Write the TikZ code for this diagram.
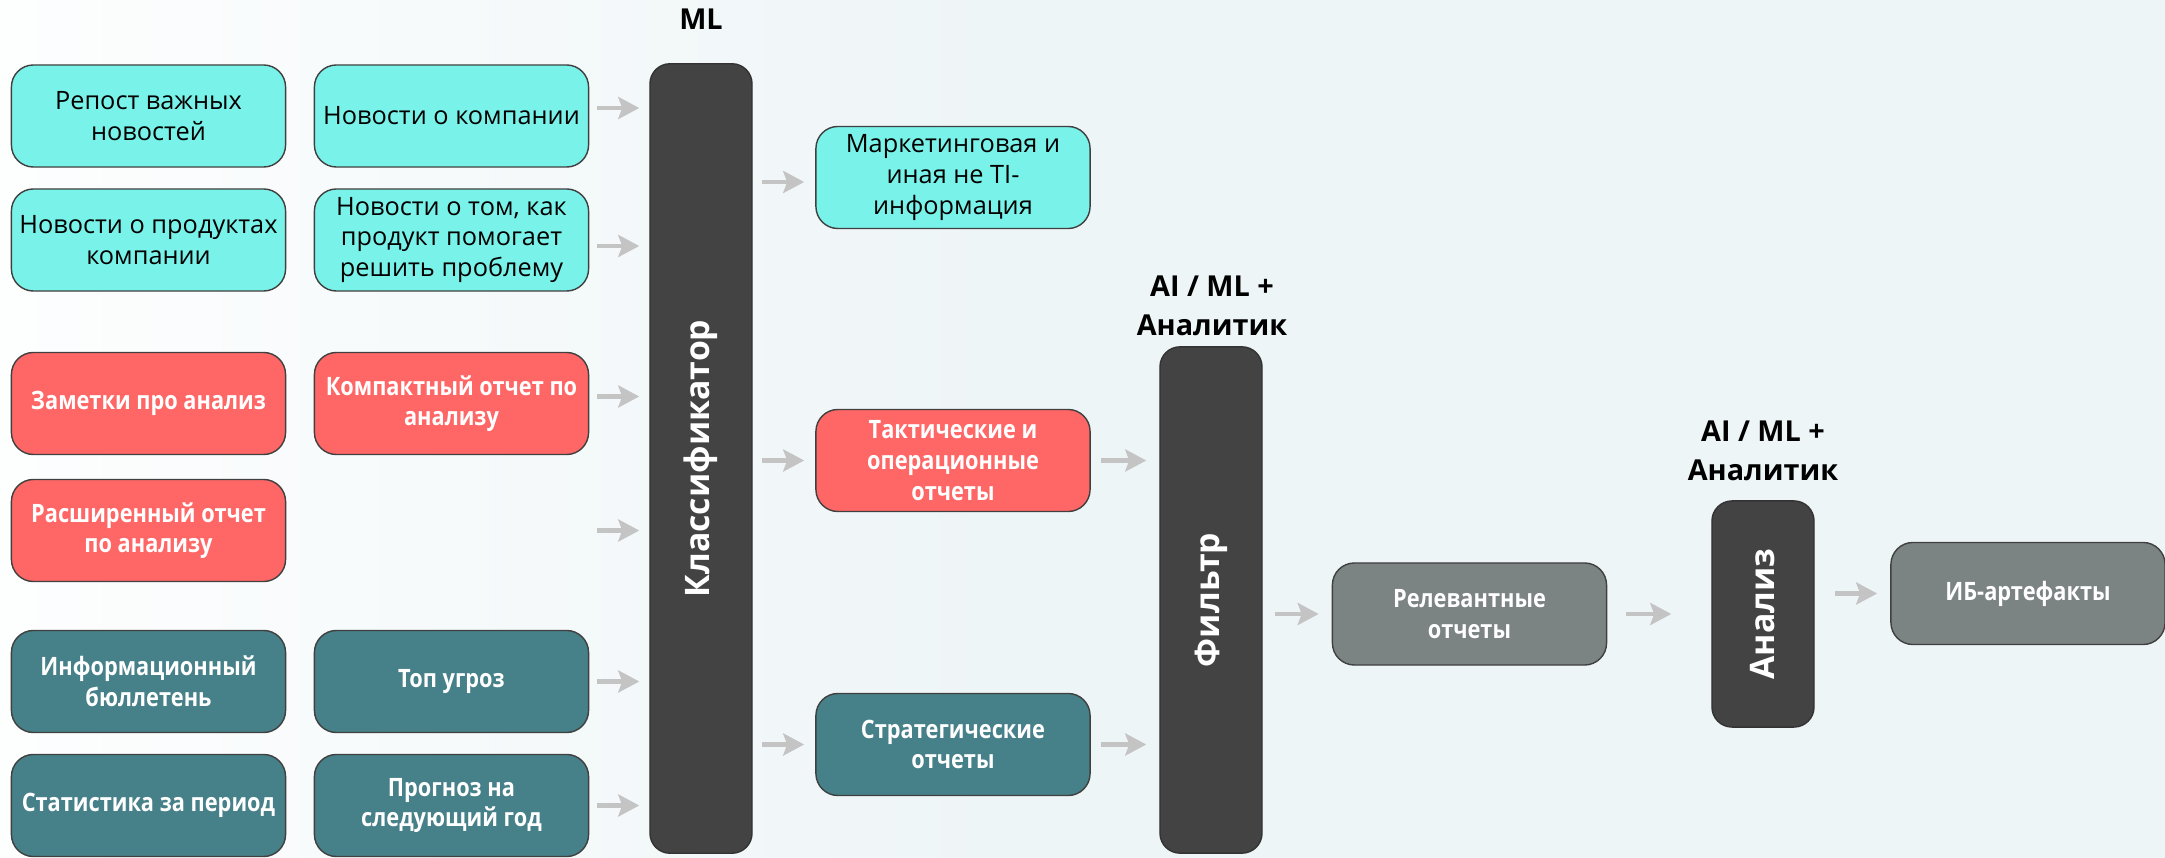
\documentclass[tikz,border=0pt]{standalone}
\usepackage{fontspec}
\setmainfont{Open Sans}[BoldFeatures={FakeStretch=0.86}]
\newfontfamily\barfont{Open Sans}
\usetikzlibrary{arrows.meta}
\definecolor{cyanbox}{RGB}{121,242,233}
\definecolor{redbox}{RGB}{255,102,102}
\definecolor{tealbox}{RGB}{70,128,137}
\definecolor{graybox}{RGB}{124,131,131}
\definecolor{barcol}{RGB}{67,67,67}
\definecolor{arrowgray}{RGB}{196,196,196}
\definecolor{bgtint}{RGB}{238,245,247}
\pgfdeclarehorizontalshading{bgshade}{100bp}{color(0bp)=(white); color(22bp)=(white); color(48bp)=(bgtint); color(100bp)=(bgtint)}
\begin{document}
\begin{tikzpicture}[x=0.01cm,y=-0.01cm,font=\fontsize{7.2}{8.7}\selectfont]
  \tikzstyle{box}=[draw=black!75,line width=0.4pt,rounded corners=0.22cm,minimum width=2.74cm,minimum height=1.02cm,align=center,inner sep=1pt]
  \tikzstyle{cyanb}=[box,fill=cyanbox,text=black]
  \tikzstyle{redb}=[box,fill=redbox,text=white,font=\fontsize{7.2}{8.7}\selectfont\bfseries]
  \tikzstyle{tealb}=[box,fill=tealbox,text=white,font=\fontsize{7.2}{8.7}\selectfont\bfseries]
  \tikzstyle{grayb}=[box,fill=graybox,text=white,font=\fontsize{7.2}{8.7}\selectfont\bfseries]
  \tikzstyle{bar}=[draw=black!80,fill=barcol,rounded corners=0.2cm,minimum width=1.02cm,inner sep=0pt,text=white,font=\barfont\fontsize{9.6}{12}\selectfont\bfseries]
  \tikzstyle{head}=[align=center,font=\barfont\fontsize{8.2}{11}\selectfont\bfseries]
  \tikzstyle{arr}=[draw=arrowgray,line width=1.3pt,-{Stealth[length=2.1mm,width=2.2mm,inset=0.4mm]}]
  \useasboundingbox (0,0) rectangle (2165,858);
  \shade[shading=bgshade] (0,0) rectangle (2165,858);

  % sources
  \node[cyanb] (repost) at (148.5,116) {Репост важных\\новостей};
  \node[cyanb] (newsco) at (451.5,116) {Новости о компании};
  \node[cyanb] (prod) at (148.5,240) {Новости о продуктах\\компании};
  \node[cyanb] (howto) at (451.5,240) {Новости о том, как\\продукт помогает\\решить проблему};
  \node[redb] (notes) at (148.5,403.5) {Заметки про анализ};
  \node[redb] (compact) at (451.5,403.5) {Компактный отчет по\\анализу};
  \node[redb] (ext) at (148.5,530.5) {Расширенный отчет\\по анализу};
  \node[tealb] (bull) at (148.5,681.5) {Информационный\\бюллетень};
  \node[tealb] (top) at (451.5,681.5) {Топ угроз};
  \node[tealb] (stat) at (148.5,805.5) {Статистика за период};
  \node[tealb] (fcst) at (451.5,805.5) {Прогноз на\\следующий год};

  % classifier
  \node[bar,minimum height=7.89cm] (cls) at (701,458.5) {\rotatebox{90}{Классификатор}};
  \node[head] (mlhead) at (701,19) {ML};

  % classes
  \node[cyanb] (mkt) at (953,177.5) {Маркетинговая и\\иная не TI-\\информация};
  \node[redb] (tact) at (953,460.5) {Тактические и\\операционные\\отчеты};
  \node[tealb] (strat) at (953,744.5) {Стратегические\\отчеты};

  % filter
  \node[bar,minimum height=5.06cm] (flt) at (1211,600) {\rotatebox{90}{Фильтр}};
  \node[head] (flthead) at (1212,306) {AI / ML +\\Аналитик};
  \node[grayb] (rel) at (1469.5,614) {Релевантные\\отчеты};

  % analysis
  \node[bar,minimum height=2.26cm] (anl) at (1763,614) {\rotatebox{90}{Анализ}};
  \node[head] (anlhead) at (1763,451) {AI / ML +\\Аналитик};
  \node[grayb] (ib) at (2028,593.5) {ИБ-артефакты};

  % arrows
  \draw[arr,shorten <=0.08cm,shorten >=0.10cm] ([yshift=0.08cm]newsco.east) -- ([yshift=0.08cm]newsco.east -| cls.west);
  \draw[arr,shorten <=0.08cm,shorten >=0.10cm] ([yshift=-0.06cm]howto.east) -- ([yshift=-0.06cm]howto.east -| cls.west);
  \draw[arr,shorten <=0.08cm,shorten >=0.10cm] ([yshift=0.07cm]compact.east) -- ([yshift=0.07cm]compact.east -| cls.west);
  \draw[arr,shorten <=0.08cm,shorten >=0.10cm] (ext.east -| compact.east) -- (ext.east -| cls.west);
  \draw[arr,shorten <=0.08cm,shorten >=0.10cm] (top.east) -- (top.east -| cls.west);
  \draw[arr,shorten <=0.08cm,shorten >=0.10cm] (fcst.east) -- (fcst.east -| cls.west);
  \draw[arr,shorten <=0.09cm,shorten >=0.11cm] ([yshift=-0.045cm]mkt.west -| cls.east) -- ([yshift=-0.045cm]mkt.west);
  \draw[arr,shorten <=0.09cm,shorten >=0.11cm] (tact.west -| cls.east) -- (tact.west);
  \draw[arr,shorten <=0.09cm,shorten >=0.11cm] (strat.west -| cls.east) -- (strat.west);
  \draw[arr,shorten <=0.10cm,shorten >=0.13cm] (tact.east) -- (tact.east -| flt.west);
  \draw[arr,shorten <=0.10cm,shorten >=0.13cm] (strat.east) -- (strat.east -| flt.west);
  \draw[arr,shorten <=0.12cm,shorten >=0.13cm] (rel.west -| flt.east) -- (rel.west);
  \draw[arr,shorten <=0.19cm,shorten >=0.40cm] (rel.east) -- (rel.east -| anl.west);
  \draw[arr,shorten <=0.20cm,shorten >=0.13cm] (ib.west -| anl.east) -- (ib.west);
\end{tikzpicture}
\end{document}
